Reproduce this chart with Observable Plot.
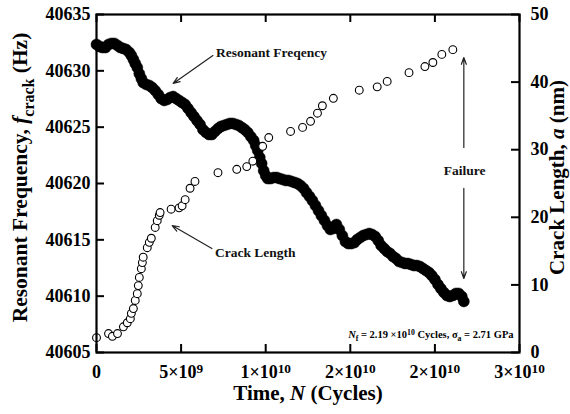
<!DOCTYPE html>
<html><head><meta charset="utf-8">
<script src="https://cdn.jsdelivr.net/npm/d3@7"></script>
<script src="https://cdn.jsdelivr.net/npm/@observablehq/plot@0.6"></script>
<style>body{margin:0;background:#fff} svg{display:block}</style>
</head><body><div id="chart"></div>
<script>
// Resonant frequency series (time in 10^9 cycles, frequency in Hz)
const freqCyclesG = [0.00,0.18,0.35,0.53,0.71,0.88,1.06,1.24,1.41,1.59,1.76,1.94,2.06,2.18,2.29,2.41,2.53,2.65,2.76,2.94,3.12,3.29,3.47,3.65,3.82,4.00,4.18,4.35,4.53,4.71,4.88,5.06,5.24,5.41,5.59,5.76,5.94,6.12,6.29,6.47,6.65,6.82,7.00,7.18,7.35,7.53,7.71,7.88,8.06,8.24,8.41,8.59,8.76,8.94,9.12,9.29,9.41,9.53,9.65,9.76,9.88,10.00,10.12,10.29,10.47,10.65,10.82,11.00,11.18,11.35,11.53,11.71,11.88,12.06,12.24,12.41,12.59,12.76,12.94,13.12,13.29,13.47,13.65,13.82,14.00,14.18,14.35,14.53,14.71,14.88,15.06,15.24,15.41,15.59,15.76,15.94,16.12,16.29,16.47,16.65,16.82,17.00,17.18,17.35,17.53,17.71,17.88,18.06,18.24,18.41,18.59,18.76,18.94,19.12,19.29,19.47,19.65,19.82,20.00,20.18,20.35,20.53,20.71,20.88,21.06,21.24,21.41,21.59,21.71];
const freqHz = [40632.34,40632.16,40632.07,40632.07,40632.34,40632.43,40632.43,40632.25,40632.07,40631.98,40631.89,40631.63,40631.36,40631.01,40630.65,40630.30,40629.76,40629.32,40628.96,40628.79,40628.70,40628.52,40628.25,40627.90,40627.54,40627.37,40627.46,40627.63,40627.72,40627.54,40627.37,40627.19,40627.01,40626.66,40626.30,40625.95,40625.59,40625.24,40624.79,40624.53,40624.35,40624.35,40624.62,40624.88,40625.06,40625.15,40625.24,40625.33,40625.33,40625.24,40625.15,40624.97,40624.79,40624.53,40624.17,40623.82,40623.37,40622.93,40622.31,40621.78,40621.15,40620.71,40620.44,40620.44,40620.53,40620.53,40620.44,40620.36,40620.27,40620.27,40620.18,40620.09,40620.00,40619.82,40619.56,40619.20,40618.85,40618.49,40618.05,40617.60,40617.16,40616.72,40616.27,40615.92,40616.01,40616.36,40615.92,40615.38,40614.85,40614.67,40614.67,40614.76,40615.03,40615.21,40615.38,40615.47,40615.56,40615.47,40615.30,40614.94,40614.50,40614.23,40613.96,40613.79,40613.52,40613.34,40613.08,40612.99,40612.90,40612.90,40612.81,40612.72,40612.72,40612.63,40612.46,40612.28,40612.10,40611.83,40611.48,40611.04,40610.68,40610.33,40610.06,40609.97,40610.06,40610.24,40610.24,40609.97,40609.53];

// Crack length series (time in 10^9 cycles, crack length in nm)
const crackCyclesG = [0,0.71,0.94,1.24,1.59,1.82,2.0,2.06,2.18,2.29,2.41,2.47,2.53,2.65,2.71,2.76,3.0,3.12,3.24,3.47,3.59,3.71,3.76,4.41,4.88,5.06,5.24,5.53,5.82,7.18,8.29,8.88,9.24,9.82,10.18,11.47,12.18,12.65,13.06,13.35,14.0,15.53,16.59,17.18,18.47,19.41,19.88,20.41,21.06];
const crackNm = [2.2,2.8,2.4,2.8,3.8,4.4,5.0,5.8,6.5,7.7,8.7,9.9,11.1,12.4,13.3,14.1,15.5,16.3,16.9,18.5,19.5,20.3,20.7,21.2,21.4,21.7,22.6,24.3,25.3,26.6,27.1,27.5,28.3,30.5,31.8,32.7,33.3,34.2,35.4,36.5,37.6,38.8,39.3,40.1,41.4,42.3,42.9,44.1,44.8];

// Axes
const xDomain = [0, 2.5e10];
const xTicks = [0, 5e9, 1e10, 1.5e10, 2e10, 2.5e10];
const xTickLabels = ["0", "5×10^9", "1×10^10", "2×10^10", "2×10^10", "3×10^10"];
const fDomain = [40605, 40635];
const fTicks = [40605, 40610, 40615, 40620, 40625, 40630, 40635];
const aDomain = [0, 50];
const aTicks = [0, 10, 20, 30, 40, 50];

// Annotations (data coordinates: cycles, Hz)
const startNotes = ["Resonant Freqency", "Crack Length"];
const startNoteX = [7.06e9, 7.0e9];
const startNoteY = [40631.63, 40613.88];
const middleNotes = ["Failure"];
const middleNoteX = [21.76e9];
const middleNoteY = [40621.15];
const arrowX1 = [6.88e9, 6.82e9, 21.71e9, 21.71e9];
const arrowY1 = [40631.36, 40614.23, 40623.2, 40619.56];
const arrowX2 = [4.53e9, 4.47e9, 21.71e9, 21.71e9];
const arrowY2 = [40628.88, 40616.27, 40631.18, 40611.57];
const infoX = 24.65e9, infoY = 40606.6;

const aToF = a => fDomain[0] + (a - aDomain[0]) * (fDomain[1] - fDomain[0]) / (aDomain[1] - aDomain[0]);
const fToA = f => aDomain[0] + (f - fDomain[0]) * (aDomain[1] - aDomain[0]) / (fDomain[1] - fDomain[0]);

const freqData = freqCyclesG.map((c, i) => ({x: c * 1e9, f: freqHz[i]}));
const crackData = crackCyclesG.map((c, i) => ({x: c * 1e9, a: crackNm[i]}));
const sNotes = startNotes.map((t, i) => ({t, x: startNoteX[i], y: startNoteY[i]}));
const mNotes = middleNotes.map((t, i) => ({t, x: middleNoteX[i], y: middleNoteY[i]}));
const arrows = arrowX1.map((x1, i) => ({x1, y1: arrowY1[i], x2: arrowX2[i], y2: arrowY2[i]}));

const W = 570, H = 414, mL = 96, mR = 51, mT = 14, mB = 62;
const fw = W - mL - mR, fh = H - mT - mB, tk = 8;
const FONT = "Liberation Serif, Times New Roman, serif";

const LBL_Y = "Resonant Frequency, f crack (Hz)";
const LBL_A = "Crack Length, a (nm)";
const LBL_X = "Time, N (Cycles)";
const INFO = "Nf = 2.19 ×10^10 Cycles, σa = 2.71 GPa";

const rich = {
  [LBL_Y]: {size: 21.5, parts: [["Resonant Frequency, "], ["f", "i"], ["crack", "sub"], [" (Hz)"]]},
  [LBL_A]: {size: 21, parts: [["Crack Length, "], ["a", "i"], [" (nm)"]]},
  [LBL_X]: {size: 21, parts: [["Time, "], ["N", "i"], [" (Cycles)"]]},
  [INFO]: {size: 10.5, parts: [["N", "i"], ["f", "sub"], [" = 2.19 ×10"], ["10", "sup"], [" Cycles, σ"], ["a", "sub"], [" = 2.71 GPa"]]}
};

const chart = Plot.plot({
  width: W, height: H,
  marginLeft: mL, marginRight: mR, marginTop: mT, marginBottom: mB,
  style: {fontFamily: FONT, fontWeight: "bold", fontSize: "18px", color: "black", background: "white"},
  x: {domain: xDomain},
  y: {domain: fDomain},
  marks: [
    Plot.dot(freqData, {x: "x", y: "f", r: 5.5, fill: "black", stroke: "black", strokeWidth: 0.5}),
    Plot.dot(crackData, {x: "x", y: d => aToF(d.a), r: 3.9, fill: "white", stroke: "black", strokeWidth: 1.1}),
    Plot.arrow(arrows, {x1: "x1", y1: "y1", x2: "x2", y2: "y2", stroke: "#222", strokeWidth: 1.2, headLength: 9, headAngle: 40}),
    Plot.text(sNotes, {x: "x", y: "y", text: "t", textAnchor: "start", fontSize: 13.5, fontWeight: "bold", fill: "#111"}),
    Plot.text(mNotes, {x: "x", y: "y", text: "t", textAnchor: "middle", fontSize: 13.5, fontWeight: "bold", fill: "#111"}),
    Plot.text([INFO], {x: () => infoX, y: () => infoY, text: d => d, textAnchor: "end", fontSize: 10.5, fontWeight: "bold"}),
    Plot.frame({stroke: "black", strokeWidth: 2.2}),
    Plot.tickX(xTicks, {x: d => d, insetTop: fh - tk, stroke: "black", strokeWidth: 2}),
    Plot.tickX(xTicks, {x: d => d, insetBottom: fh - tk, stroke: "black", strokeWidth: 2}),
    Plot.tickY(fTicks, {y: d => d, insetRight: fw - tk, stroke: "black", strokeWidth: 2}),
    Plot.tickY(aTicks.map(aToF), {y: d => d, insetLeft: fw - tk, stroke: "black", strokeWidth: 2}),
    Plot.axisX(xTicks, {anchor: "bottom", tickSize: 0, tickPadding: 13, label: null, tickFormat: d => xTickLabels[xTicks.indexOf(d)], fontSize: 18}),
    Plot.axisY(fTicks, {anchor: "left", tickSize: 0, tickPadding: 6, label: null, tickFormat: d => String(d), fontSize: 18}),
    Plot.axisY(aTicks.map(aToF), {anchor: "right", tickSize: 0, tickPadding: 11, label: null, tickFormat: d => String(Math.round(fToA(d))), fontSize: 18}),
    Plot.text([LBL_Y], {frameAnchor: "left", textAnchor: "middle", dx: -76, dy: -6, rotate: -90, text: d => d, fontSize: 21.5}),
    Plot.text([LBL_A], {frameAnchor: "right", textAnchor: "middle", dx: 38, dy: -6, rotate: -90, text: d => d, fontSize: 21}),
    Plot.text([LBL_X], {frameAnchor: "bottom", textAnchor: "middle", dy: 47, text: d => d, fontSize: 21})
  ]
});

function applyRich(el, parts, size) {
  const s = d3.select(el);
  s.text(null);
  let shift = 0;
  for (const [t, style] of parts) {
    const target = style === "sub" ? 0.3 * size : style === "sup" ? -0.3 * size : 0;
    const ts = s.append("tspan").text(t);
    if (target !== shift) ts.attr("dy", target - shift);
    shift = target;
    if (style === "sub" || style === "sup") ts.attr("font-size", 0.74 * size);
    if (style === "i") ts.attr("font-style", "italic");
  }
}

d3.select(chart).selectAll("text").each(function () {
  const txt = this.textContent;
  if (rich[txt]) {
    applyRich(this, rich[txt].parts, rich[txt].size);
  } else if (txt.includes("^")) {
    const [base, exp] = txt.split("^");
    applyRich(this, [[base], [exp, "sup"]], 18);
  }
});

document.getElementById("chart").appendChild(chart);
</script>
</body></html>
